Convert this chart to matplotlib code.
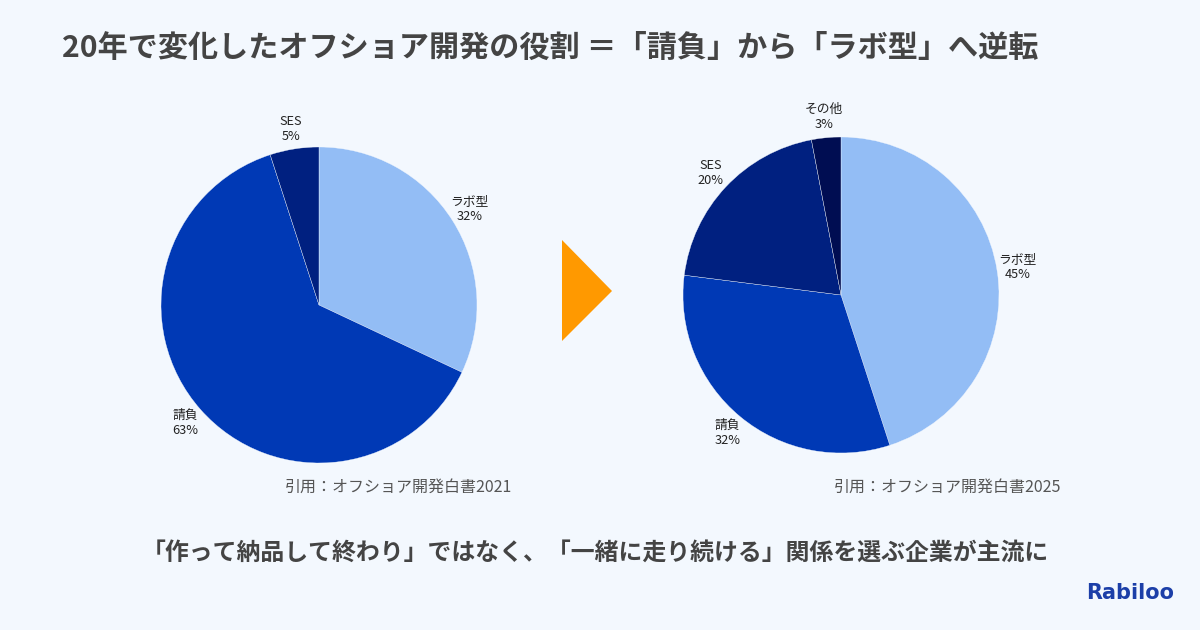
import matplotlib.pyplot as plt
from matplotlib.patches import Polygon

plt.rcParams['font.family'] = ['Noto Sans CJK JP', 'DejaVu Sans']

# data
labels_2021 = ["ラボ型", "請負", "SES"]
share_2021 = [32, 63, 5]
labels_2025 = ["ラボ型", "請負", "SES", "その他"]
share_2025 = [45, 32, 20, 3]
colors = ["#93BDF5", "#0039B5", "#002080", "#000D52"]

bg = "#F3F8FE"
W, H = 1200, 630
R = 158  # pie radius in px

fig = plt.figure(figsize=(12, 6.3), dpi=100, facecolor=bg)

def pie_axes(cx, cy):
    half = 200
    ax = fig.add_axes([(cx - half) / W, (H - cy - half) / H, 2 * half / W, 2 * half / H])
    ax.set_facecolor("none")
    return ax

def draw_pie(ax, labels, vals):
    txt = ["%s\n%d%%" % (l, v) for l, v in zip(labels, vals)]
    wedges, texts = ax.pie(vals, labels=txt, colors=colors[:len(vals)], startangle=90,
                           counterclock=False, labeldistance=1.13,
                           wedgeprops=dict(edgecolor=bg, linewidth=0.25),
                           textprops=dict(fontsize=9.2, color="#222222", linespacing=1.2))
    for t in texts:
        t.set_ha("center")
        t.set_va("center")
    lim = 200 / R
    ax.set_xlim(-lim, lim)
    ax.set_ylim(-lim, lim)
    ax.set_aspect("equal")
    ax.axis("off")

ax1 = pie_axes(319, 305)
draw_pie(ax1, labels_2021, share_2021)
ax2 = pie_axes(841, 295)
draw_pie(ax2, labels_2025, share_2025)

# arrow between pies
tri = Polygon([(562 / W, 1 - 240 / H), (612 / W, 1 - 291 / H), (562 / W, 1 - 341 / H)],
              closed=True, transform=fig.transFigure, color="#FF9900", lw=0)
fig.patches.append(tri)

fig.text(62 / W, 1 - 48 / H, "20年で変化したオフショア開発の役割 ＝「請負」から「ラボ型」へ逆転",
         fontsize=21.7, fontweight="bold", color="#444444", ha="left", va="center")

fig.text(398 / W, 1 - 487 / H, "引用：オフショア開発白書2021", fontsize=11.5,
         color="#555555", ha="center", va="center")
fig.text(948 / W, 1 - 487 / H, "引用：オフショア開発白書2025", fontsize=11.5,
         color="#555555", ha="center", va="center")

fig.text(595 / W, 1 - 553 / H,
         "「作って納品して終わり」ではなく、「一緒に走り続ける」関係を選ぶ企業が主流に",
         fontsize=17.2, fontweight="bold", color="#444444", ha="center", va="center")

fig.text(1130 / W, 1 - 593 / H, "Rabiloo", fontsize=15, fontweight="bold",
         color="#1C3FA8", ha="center", va="center", family="DejaVu Sans")

fig.savefig("out.png", dpi=100, facecolor=bg)
